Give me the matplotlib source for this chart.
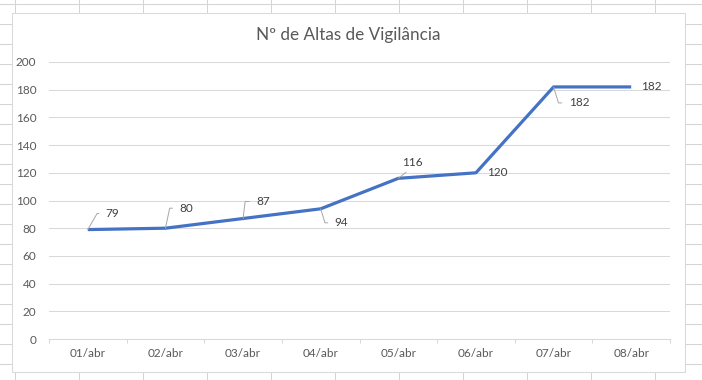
import matplotlib
matplotlib.use("Agg")
import matplotlib.pyplot as plt
from matplotlib.lines import Line2D
from matplotlib.patches import Rectangle

categories = ["01/abr", "02/abr", "03/abr", "04/abr", "05/abr", "06/abr", "07/abr", "08/abr"]
values = [79, 80, 87, 94, 116, 120, 182, 182]
y_ticks = [0, 20, 40, 60, 80, 100, 120, 140, 160, 180, 200]
title = "Nº de Altas de Vigilância"

W, H = 702, 380
DPI = 100
plt.rcParams['font.family'] = ['Lato', 'DejaVu Sans']

fig = plt.figure(figsize=(W / DPI, H / DPI), dpi=DPI)
fig.patch.set_facecolor("white")

def fx(px):
    return px / W

def fy(py):
    return 1 - py / H

# spreadsheet cell grid behind the chart
cell = "#d4d4d4"
for k in range(11):
    x = 15 + 64 * k
    fig.add_artist(Line2D([fx(x), fx(x)], [0, 1], color=cell, lw=0.75, zorder=0))
for k in range(19):
    y = 4 + 20 * k
    fig.add_artist(Line2D([0, 1], [fy(y), fy(y)], color=cell, lw=0.75, zorder=0))

# chart area
fig.add_artist(Rectangle((fx(12), fy(372)), fx(685) - fx(12), fy(13) - fy(372),
                         facecolor="white", edgecolor="#d9d9d9", lw=0.75, zorder=1))

ax = fig.add_axes([fx(49), fy(339), fx(670) - fx(49), fy(62) - fy(339)])
ax.set_zorder(2)
ax.patch.set_alpha(0)

x = list(range(len(categories)))
ax.plot(x, values, color="#4472C4", lw=2.3, solid_capstyle="butt", zorder=3)

ax.set_xlim(-0.5, len(categories) - 0.5)
ax.set_ylim(0, 200)
ax.set_yticks(y_ticks)
ax.set_yticklabels([str(t) for t in y_ticks])
ax.set_xticks(x)
ax.set_xticklabels(categories)
ax.set_xticks([i - 0.5 for i in range(len(categories) + 1)], minor=True)

ax.grid(axis="y", color="#d9d9d9", lw=0.75)
ax.set_axisbelow(True)
for s in ["top", "right", "left"]:
    ax.spines[s].set_visible(False)
ax.spines["bottom"].set_color("#d9d9d9")
ax.spines["bottom"].set_linewidth(0.75)

ax.tick_params(axis="y", length=0, pad=9, labelsize=8.5, labelcolor="#595959")
ax.tick_params(axis="x", which="major", length=0, pad=6.5, labelsize=8.5, labelcolor="#595959")
ax.tick_params(axis="x", which="minor", length=3, width=0.75, color="#d9d9d9")

# data labels: (dx, dy) offsets in pixels, leader angle (None = no leader)
offsets = [(18, 16), (14, 20), (13, 17), (14, -14), (4, 16), (11, 0), (15, -16), (10, 0)]
leaders = [60, 78, 83, -73, "straight", None, -73, None]
for i, v in enumerate(values):
    dx, dy = offsets[i]
    ld = leaders[i]
    kw = {}
    if ld == "straight":
        kw["arrowprops"] = dict(arrowstyle="-", color="#a6a6a6", lw=0.7,
                                shrinkA=2, shrinkB=0, relpos=(0.45, 0))
    elif ld is not None:
        kw["arrowprops"] = dict(arrowstyle="-", color="#a6a6a6", lw=0.7,
                                shrinkA=3, shrinkB=0, relpos=(0, 0.5),
                                connectionstyle=f"angle,angleA=180,angleB={ld},rad=0")
    ax.annotate(str(v), xy=(i, v), xytext=(dx, dy), textcoords="offset pixels",
                ha="left", va="center", fontsize=8.5, color="#404040",
                annotation_clip=False, zorder=4, **kw)

fig.text(fx(348), fy(35), title, ha="center", va="center", fontsize=12.3, color="#595959")

fig.savefig("out.png", dpi=DPI)
